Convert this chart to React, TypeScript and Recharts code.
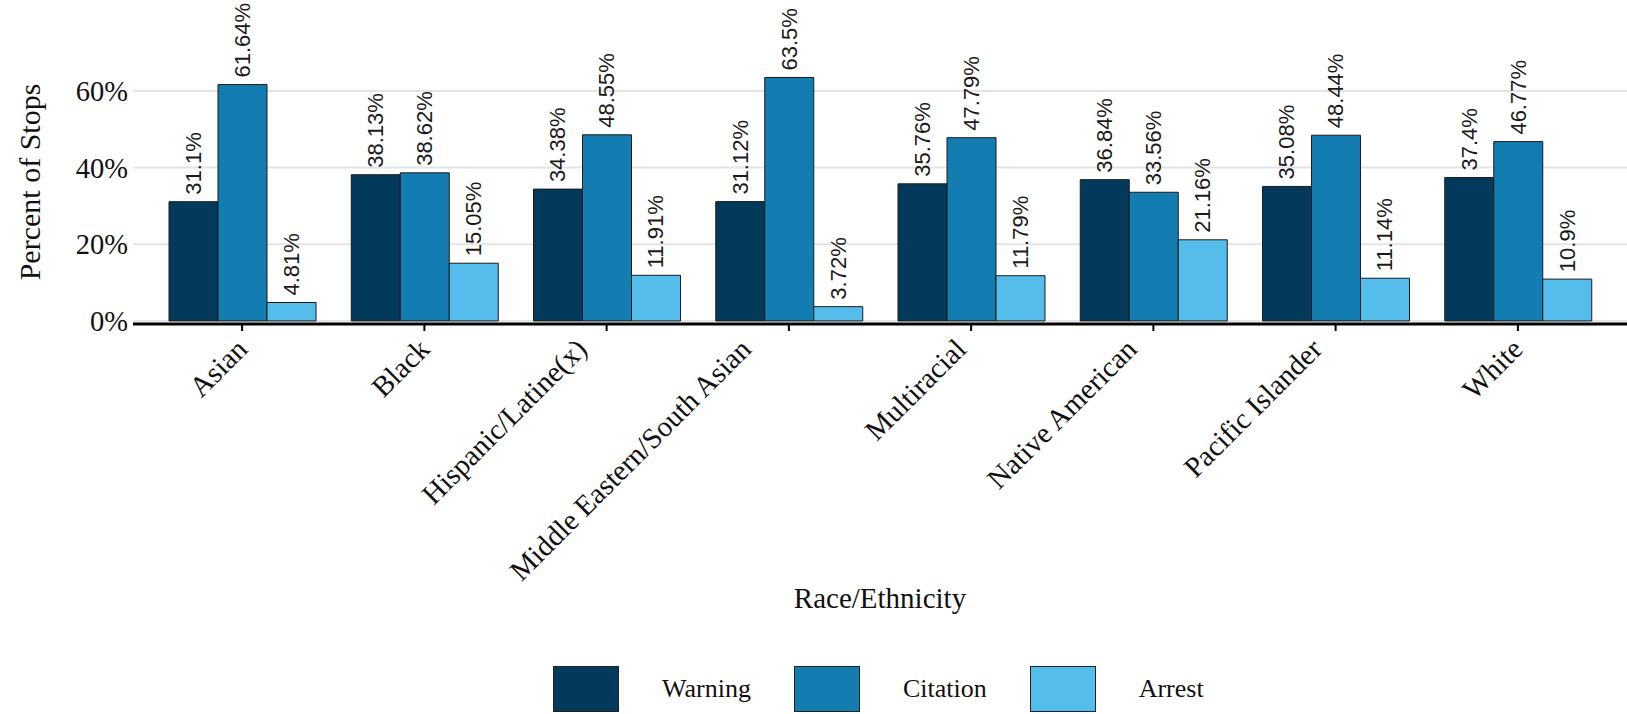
import { BarChart, Bar, XAxis, YAxis, CartesianGrid, Legend, LabelList, Label } from 'recharts';

const categories = [
  'Asian',
  'Black',
  'Hispanic/Latine(x)',
  'Middle Eastern/South Asian',
  'Multiracial',
  'Native American',
  'Pacific Islander',
  'White',
];
const warning = [31.1, 38.13, 34.38, 31.12, 35.76, 36.84, 35.08, 37.4];
const citation = [61.64, 38.62, 48.55, 63.5, 47.79, 33.56, 48.44, 46.77];
const arrest = [4.81, 15.05, 11.91, 3.72, 11.79, 21.16, 11.14, 10.9];
const yTicks = [0, 20, 40, 60];

const series = [
  { key: 'warning', label: 'Warning', color: '#033a5b' },
  { key: 'citation', label: 'Citation', color: '#137cb0' },
  { key: 'arrest', label: 'Arrest', color: '#54bdeb' },
];

const data = categories.map((race, i) => ({
  race,
  warning: warning[i],
  citation: citation[i],
  arrest: arrest[i],
}));

const SERIF = '"Liberation Serif", "Times New Roman", serif';
const SANS = '"Liberation Sans", Arial, sans-serif';
const TICK_FONT = 29;

// rough text width, used to mimic ggplot's justification of the rotated labels
let measureCtx: CanvasRenderingContext2D | null = null;
function textWidth(s: string) {
  if (!measureCtx) measureCtx = document.createElement('canvas').getContext('2d');
  if (!measureCtx) return s.length * TICK_FONT * 0.45;
  measureCtx.font = `${TICK_FONT}px "Liberation Serif"`;
  return measureCtx.measureText(s).width;
}

function XTick(props: any) {
  const { x, y, payload } = props;
  const w = textWidth(payload.value);
  const px = x + 7 - 0.165 * (w - 67);
  const py = y + 20;
  return (
    <text x={px} y={py} transform={`rotate(-45, ${px}, ${py})`} textAnchor="end" fontFamily={SERIF} fontSize={TICK_FONT} fill="#111">
      {payload.value}
    </text>
  );
}

function BarValue(props: any) {
  const { x, y, width, value } = props;
  const cx = x + width / 2;
  const cy = y - 7;
  return (
    <text x={cx} y={cy} transform={`rotate(-90, ${cx}, ${cy})`} textAnchor="start" dominantBaseline="central" fontFamily={SANS} fontSize={22} fill="#1a1a1a">
      {`${value}%`}
    </text>
  );
}

function LegendBox() {
  return (
    <div style={{ display: 'flex', alignItems: 'center', fontFamily: SERIF, fontSize: 26, color: '#111' }}>
      {series.map((s) => (
        <div key={s.key} style={{ display: 'flex', alignItems: 'center', marginRight: 43 }}>
          <div style={{ width: 64, height: 44, background: s.color, border: '1px solid #222' }} />
          <span style={{ marginLeft: 43 }}>{s.label}</span>
        </div>
      ))}
    </div>
  );
}

export default function App() {
  return (
    <div style={{ position: 'absolute', left: 0, top: 0, width: 1627, height: 714, background: '#fff' }}>
      <BarChart width={1627} height={714} data={data} margin={{ top: 40, right: 0, bottom: 0, left: 0 }} barCategoryGap={18} barGap={0}>
        <CartesianGrid vertical={false} horizontalValues={yTicks} stroke="#e4e4e4" strokeWidth={2} />
        <XAxis
          dataKey="race"
          height={390}
          padding={{ left: 18, right: 18 }}
          axisLine={{ stroke: '#000', strokeWidth: 3 }}
          tickLine={{ stroke: '#000', strokeWidth: 2 }}
          tickSize={7}
          tickMargin={0}
          interval={0}
          tick={<XTick />}
        >
          <Label
            content={(p: any) => {
              const vb = p.viewBox;
              return (
                <text x={vb.x + vb.width / 2} y={vb.y + 284} textAnchor="middle" fontFamily={SERIF} fontSize={29} fill="#111">
                  Race/Ethnicity
                </text>
              );
            }}
          />
        </XAxis>
        <YAxis
          width={133}
          domain={[-0.8, 73.27]}
          ticks={yTicks}
          allowDataOverflow
          axisLine={false}
          tickLine={false}
          tickSize={0}
          tickMargin={5}
          tickFormatter={(v: number) => `${v}%`}
          tick={{ fontFamily: SERIF, fontSize: 28.5, fill: '#111' }}
        >
          <Label
            content={(p: any) => {
              const vb = p.viewBox;
              const cx = 29;
              const cy = vb.y + vb.height / 2;
              return (
                <text x={cx} y={cy} transform={`rotate(-90, ${cx}, ${cy})`} textAnchor="middle" dominantBaseline="central" fontFamily={SERIF} fontSize={30} fill="#111">
                  Percent of Stops
                </text>
              );
            }}
          />
        </YAxis>
        <Legend
          verticalAlign="middle"
          align="center"
          layout="horizontal"
          wrapperStyle={{ top: 666, left: 553, width: 'auto' }}
          content={() => <LegendBox />}
        />
        {series.map((s) => (
          <Bar key={s.key} dataKey={s.key} name={s.label} fill={s.color} stroke="#1b1b1b" strokeWidth={1} isAnimationActive={false}>
            <LabelList dataKey={s.key} content={<BarValue />} />
          </Bar>
        ))}
      </BarChart>
    </div>
  );
}
